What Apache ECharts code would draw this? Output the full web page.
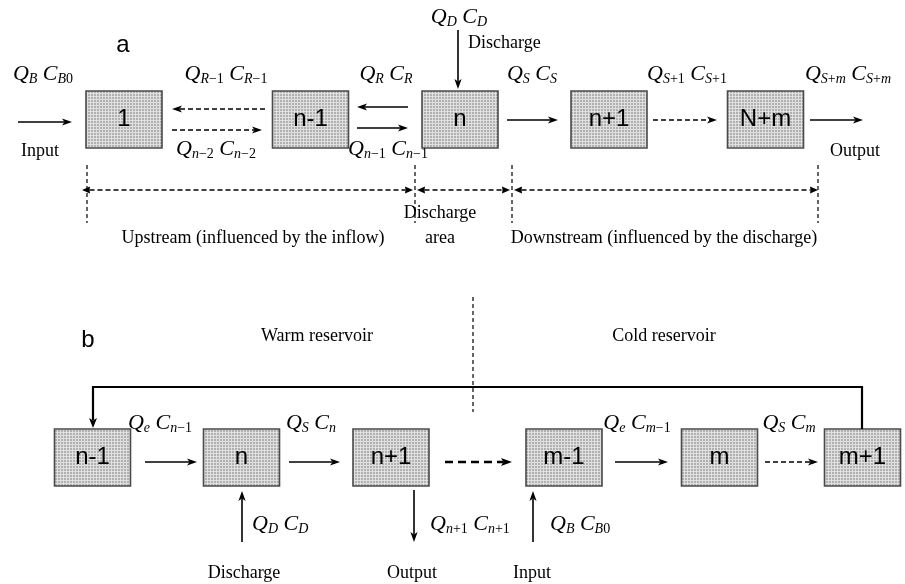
<!DOCTYPE html>
<html><head><meta charset="utf-8">
<script src="https://cdn.jsdelivr.net/npm/echarts@6/dist/echarts.min.js"></script>
<style>html,body{margin:0;padding:0;background:#fff}#c{width:905px;height:584px}</style>
</head><body><div id="c"></div>
<script>
// ---------- diagram data (diagram units = pixels of the 905x584 canvas) ----------
const boxesA = ['1', 'n-1', 'n', 'n+1', 'N+m'];
const boxesAX = [124, 310.5, 460, 609, 765.5];
const boxesAY = 119.5;
const boxesB = ['n-1', 'n', 'n+1', 'm-1', 'm', 'm+1'];
const boxesBX = [92.5, 241.5, 391, 564, 719.5, 862.5];
const boxesBY = 457.5;

const solidArrows = [
  [18, 122, 72, 122], [408, 107, 357, 107], [357, 128, 408, 128], [458, 30, 458, 89],
  [507, 120, 558, 120], [810, 120, 863, 120],
  [145, 462, 197, 462], [289, 462, 340, 462], [615, 462, 668, 462],
  [242, 542, 242, 491], [414, 490, 414, 542], [533, 542, 533, 491]
];
const dashedArrows = [[265, 109, 172, 109], [172, 130, 262, 130], [653, 120, 717, 120], [765, 462, 818, 462]];
const boldDashedArrows = [[445, 462, 512, 462]];
const spanArrows = [[82, 190, 413, 190], [417, 190, 510, 190], [514, 190, 818, 190]];
const guideLines = [[87, 165, 87, 223], [415, 165, 415, 223], [512, 165, 512, 223], [818, 165, 818, 223], [473, 297, 473, 412]];
const loopPath = [[862, 429, 862, 387, 93, 387, 93, 428]];

const mathLabels = ['Q_{B} C_{B0}', 'Q_{R−1} C_{R−1}', 'Q_{R} C_{R}', 'Q_{D} C_{D}', 'Q_{S} C_{S}', 'Q_{S+1} C_{S+1}', 'Q_{S+m} C_{S+m}',
  'Q_{n−2} C_{n−2}', 'Q_{n−1} C_{n−1}',
  'Q_{e} C_{n−1}', 'Q_{S} C_{n}', 'Q_{e} C_{m−1}', 'Q_{S} C_{m}',
  'Q_{D} C_{D}', 'Q_{n+1} C_{n+1}', 'Q_{B} C_{B0}'];
const mathX = [43, 226, 386, 459, 532, 687, 848, 216, 388, 160, 311, 637, 789, 252, 430, 550];
const mathY = [74, 74, 74, 17, 74, 74, 74, 149, 149, 423, 423, 423, 423, 524, 524, 524];
const mathAlign = ['center', 'center', 'center', 'center', 'center', 'center', 'center', 'center', 'center',
  'center', 'center', 'center', 'center', 'left', 'left', 'left'];

const textLabels = ['Input', 'Discharge', 'Output', 'Discharge', 'area', 'Upstream (influenced by the inflow)',
  'Downstream (influenced by the discharge)', 'Warm reservoir', 'Cold reservoir', 'Discharge', 'Output', 'Input'];
const textX = [40, 468, 855, 440, 440, 253, 664, 317, 664, 244, 412, 532];
const textY = [151, 43, 151, 213, 238, 238, 238, 336, 336, 573, 573, 573];
const textAlign = ['center', 'left', 'center', 'center', 'center', 'center', 'center', 'center', 'center', 'center', 'center', 'center'];

const panelLetters = ['a', 'b'];
const panelX = [123, 88];
const panelY = [45, 340];

// ---------- styles ----------
const BOX_W = 76, BOX_H = 57;
const pat = document.createElement('canvas');
pat.width = 3; pat.height = 3;
(function () {
  const c = pat.getContext('2d');
  c.fillStyle = '#b0b0b0'; c.fillRect(0, 0, 3, 3);
  c.fillStyle = '#e0e0e0'; c.fillRect(0, 0, 3, 1); c.fillRect(0, 0, 1, 3);
})();

const SERIF = '"Liberation Serif", "Times New Roman", serif';
const SANS = '"Liberation Sans", Arial, sans-serif';
const rich = {
  m: { fontFamily: SERIF, fontStyle: 'italic', fontSize: 22, fill: '#000' },
  sp: { fontFamily: SERIF, fontSize: 22, fill: '#000' },
  si: { fontFamily: SERIF, fontStyle: 'italic', fontSize: 14, fill: '#000', padding: [11, 0, 0, 0] },
  sd: { fontFamily: SERIF, fontSize: 14, fill: '#000', padding: [11, 0, 0, 0] }
};
function toRich(s) {
  let out = '', i = 0;
  while (i < s.length) {
    const ch = s[i];
    if (ch === '_' && s[i + 1] === '{') {
      const j = s.indexOf('}', i);
      for (const c of s.slice(i + 2, j)) out += (/[A-Za-z]/.test(c) ? '{si|' : '{sd|') + c + '}';
      i = j + 1;
    } else if (ch === ' ') { out += '{sp| }'; i++; }
    else { out += '{m|' + ch + '}'; i++; }
  }
  return out;
}

function head(tip, ux, uy, L, W, N) {
  const nx = -uy, ny = ux;
  const bx = tip[0] - ux * L, by = tip[1] - uy * L;
  return {
    type: 'polygon',
    shape: { points: [tip, [bx + nx * W, by + ny * W], [tip[0] - ux * (L - N), tip[1] - uy * (L - N)], [bx - nx * W, by - ny * W]] },
    style: { fill: '#000' }
  };
}
function arrowSeries(name, data, opt) {
  return {
    type: 'custom', name, coordinateSystem: 'cartesian2d', data, clip: false, silent: true,
    renderItem(params, api) {
      const p1 = api.coord([api.value(0), api.value(1)]);
      const p2 = api.coord([api.value(2), api.value(3)]);
      const dx = p2[0] - p1[0], dy = p2[1] - p1[1];
      const len = Math.hypot(dx, dy), ux = dx / len, uy = dy / len;
      const children = [];
      let s = p1, e = p2;
      if (opt.end) { e = [p2[0] - ux * (opt.L - opt.N), p2[1] - uy * (opt.L - opt.N)]; children.push(head(p2, ux, uy, opt.L, opt.W, opt.N)); }
      if (opt.start) { s = [p1[0] + ux * (opt.L - opt.N), p1[1] + uy * (opt.L - opt.N)]; children.push(head(p1, -ux, -uy, opt.L, opt.W, opt.N)); }
      children.unshift({ type: 'line', shape: { x1: s[0], y1: s[1], x2: e[0], y2: e[1] },
        style: { stroke: '#000', lineWidth: opt.lw, lineDash: opt.dash || null } });
      return { type: 'group', children };
    }
  };
}

const boxData = boxesAX.map((x, i) => [x, boxesAY, i]).concat(boxesBX.map((x, i) => [x, boxesBY, boxesA.length + i]));
const boxNames = boxesA.concat(boxesB);

const chart = echarts.init(document.getElementById('c'), null, { renderer: 'canvas' });
chart.setOption({
  animation: false,
  backgroundColor: '#fff',
  grid: { left: 0, right: 0, top: 0, bottom: 0 },
  xAxis: { type: 'value', min: 0, max: 905, show: false },
  yAxis: { type: 'value', min: 0, max: 584, inverse: true, show: false },
  series: [
    {
      type: 'custom', name: 'boxes', coordinateSystem: 'cartesian2d', data: boxData, clip: false, silent: true,
      renderItem(params, api) {
        const c = api.coord([api.value(0), api.value(1)]);
        const sz = api.size([BOX_W, BOX_H]);
        return {
          type: 'group', children: [
            { type: 'rect', shape: { x: c[0] - sz[0] / 2, y: c[1] - sz[1] / 2, width: sz[0], height: sz[1] },
              style: { fill: { image: pat, repeat: 'repeat' }, stroke: '#4a4a4a', lineWidth: 1.6 } },
            { type: 'text', x: c[0], y: c[1],
              style: { text: boxNames[api.value(2)], font: '24px ' + SANS, fill: '#000', align: 'center', verticalAlign: 'middle' } }
          ]
        };
      }
    },
    arrowSeries('solid', solidArrows, { lw: 1.6, end: true, L: 10, W: 3.6, N: 2.5 }),
    arrowSeries('dashed', dashedArrows, { lw: 1.4, dash: [5, 3], end: true, L: 10, W: 3.6, N: 2.5 }),
    arrowSeries('boldDashed', boldDashedArrows, { lw: 2.6, dash: [8, 5], end: true, L: 11, W: 4, N: 2.5 }),
    arrowSeries('span', spanArrows, { lw: 1.4, dash: [5, 3], end: true, start: true, L: 8, W: 3.6, N: 0.5 }),
    arrowSeries('guide', guideLines, { lw: 1.2, dash: [4, 3] }),
    {
      type: 'custom', name: 'loop', coordinateSystem: 'cartesian2d', data: loopPath, clip: false, silent: true,
      renderItem(params, api) {
        const pts = [];
        for (let k = 0; k < 4; k++) pts.push(api.coord([api.value(2 * k), api.value(2 * k + 1)]));
        const tip = pts[3];
        const line = pts.slice(0, 3).concat([[tip[0], tip[1] - 8]]);
        return { type: 'group', children: [
          { type: 'polyline', shape: { points: line }, style: { stroke: '#000', lineWidth: 2.2, fill: null } },
          head(tip, 0, 1, 10, 4, 2.5)
        ] };
      }
    },
    {
      type: 'custom', name: 'math', coordinateSystem: 'cartesian2d', data: mathX.map((x, i) => [x, mathY[i], i]), clip: false, silent: true,
      renderItem(params, api) {
        const c = api.coord([api.value(0), api.value(1)]);
        const i = api.value(2);
        return { type: 'text', x: c[0], y: c[1],
          style: { text: toRich(mathLabels[i]), rich, align: mathAlign[i], verticalAlign: 'middle', fill: '#000' } };
      }
    },
    {
      type: 'custom', name: 'text', coordinateSystem: 'cartesian2d', data: textX.map((x, i) => [x, textY[i], i]), clip: false, silent: true,
      renderItem(params, api) {
        const c = api.coord([api.value(0), api.value(1)]);
        const i = api.value(2);
        return { type: 'text', x: c[0], y: c[1],
          style: { text: textLabels[i], font: '18px ' + SERIF, fill: '#000', align: textAlign[i], verticalAlign: 'middle' } };
      }
    },
    {
      type: 'custom', name: 'letters', coordinateSystem: 'cartesian2d', data: panelX.map((x, i) => [x, panelY[i], i]), clip: false, silent: true,
      renderItem(params, api) {
        const c = api.coord([api.value(0), api.value(1)]);
        return { type: 'text', x: c[0], y: c[1],
          style: { text: panelLetters[api.value(2)], font: '24px ' + SANS, fill: '#000', align: 'center', verticalAlign: 'middle' } };
      }
    }
  ]
});
</script></body></html>
